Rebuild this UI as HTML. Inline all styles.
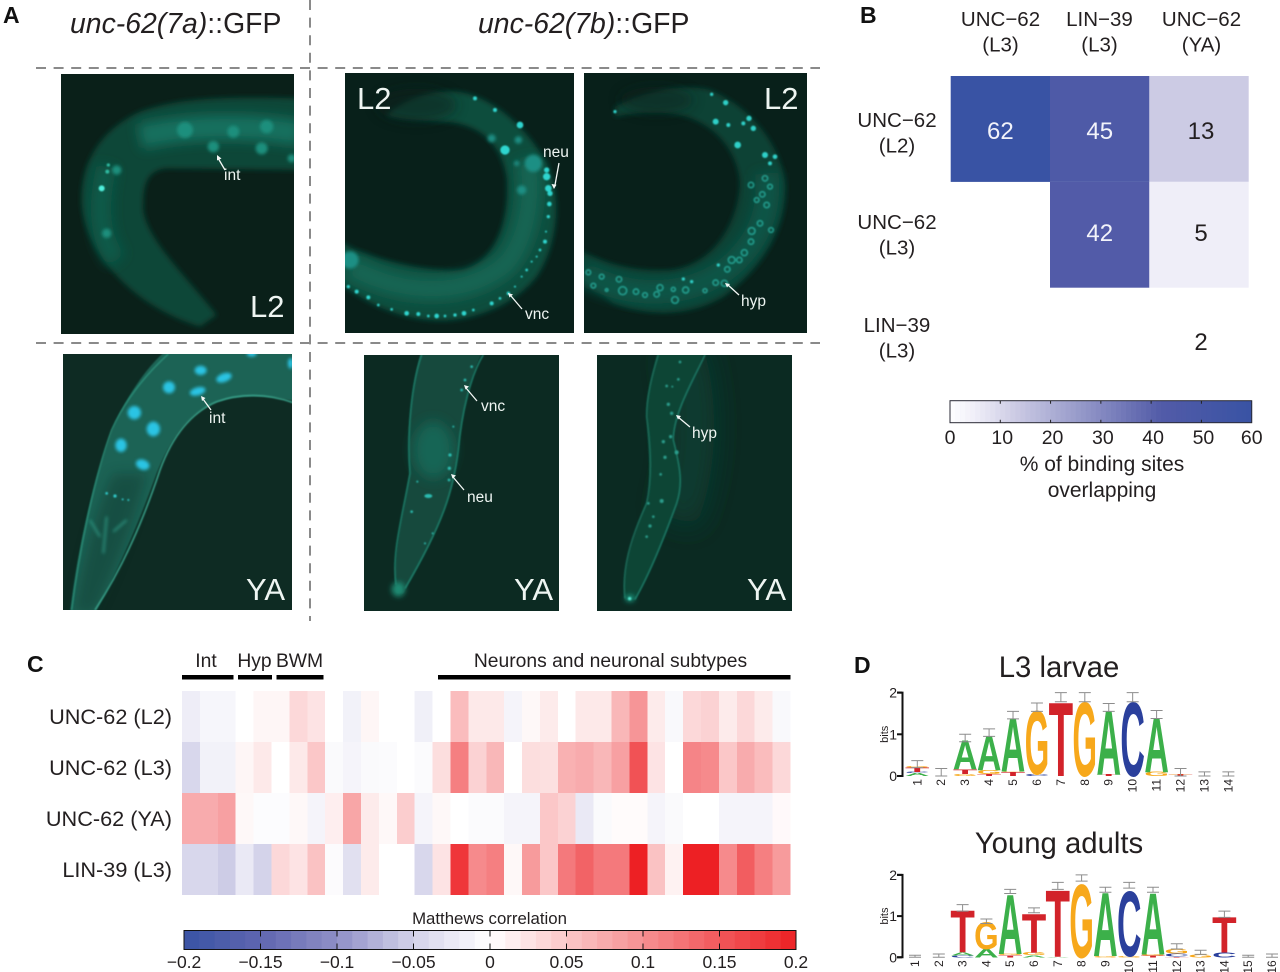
<!DOCTYPE html>
<html lang="en">
<head>
<meta charset="utf-8">
<title>unc-62 expression and binding figure</title>
<style>
html,body{margin:0;padding:0;background:#fff;}
svg{display:block;}
text{font-family:"Liberation Sans",Arial,sans-serif;fill:#231f20;}
.pl{font-weight:bold;font-size:23px;fill:#111;}
.w{fill:#eef5f2;}
.sm{font-size:15.5px;}
.st{font-size:31px;}
.hd{font-size:20.5px;text-anchor:middle;}
.val{font-size:24px;text-anchor:middle;}
.rl{font-size:21.7px;text-anchor:end;}
.dash{stroke:#8a8a8a;stroke-width:2;stroke-dasharray:10 7.6;fill:none;}
.arr{stroke:#f4f8f6;stroke-width:1.3;fill:none;}
.tip{fill:#f4f8f6;}
</style>
</head>
<body>
<svg id="fig" xmlns="http://www.w3.org/2000/svg" width="1280" height="972" viewBox="0 0 1280 972">
<defs>
<filter id="b1" filterUnits="userSpaceOnUse" x="-100" y="-100" width="1700" height="1100"><feGaussianBlur stdDeviation="2.2"/></filter>
<filter id="b5" filterUnits="userSpaceOnUse" x="-100" y="-100" width="1700" height="1100"><feGaussianBlur stdDeviation="4.5"/></filter>
<filter id="b2" filterUnits="userSpaceOnUse" x="-100" y="-100" width="1700" height="1100"><feGaussianBlur stdDeviation="8"/></filter>
<filter id="b3" filterUnits="userSpaceOnUse" x="-100" y="-100" width="1700" height="1100"><feGaussianBlur stdDeviation="18"/></filter>
<filter id="b4" filterUnits="userSpaceOnUse" x="-100" y="-100" width="1700" height="1100"><feGaussianBlur stdDeviation="42"/></filter>
</defs>
<rect x="0" y="0" width="1280" height="972" fill="#fff"/>

<g>
<text class="pl" x="3" y="23">A</text>
<text x="70" y="33" font-size="28.4"><tspan font-style="italic">unc-62(7a)</tspan>::GFP</text>
<text x="478" y="33" font-size="28.4"><tspan font-style="italic">unc-62(7b)</tspan>::GFP</text>

<svg x="61" y="74" width="233" height="260" viewBox="61 74 233 260">
<rect x="61" y="74" width="233" height="260" fill="#0a2019"/>
<g transform="scale(.33333)">
<path d="M900 295 C700 290 540 290 420 335 C300 390 240 490 245 610 C255 760 400 920 600 980 L650 945 C560 830 420 700 430 610 C430 540 450 510 500 505 L900 510 Z" fill="#0c4638" filter="url(#b2)"/>
<path d="M420 410 C560 375 760 375 900 400" fill="none" stroke="#136f5f" stroke-width="75" filter="url(#b3)"/>
<path d="M320 500 C290 620 300 720 350 780" fill="none" stroke="#105a4a" stroke-width="60" filter="url(#b3)"/>
<g fill="#1f8f7d" filter="url(#b5)">
<circle cx="555" cy="390" r="24"/><circle cx="800" cy="380" r="20"/><circle cx="640" cy="440" r="17"/><circle cx="785" cy="445" r="18"/><circle cx="875" cy="475" r="12"/><circle cx="350" cy="510" r="14"/><circle cx="320" cy="700" r="14"/><circle cx="700" cy="395" r="18"/>
</g>
<circle cx="322" cy="515" r="6" fill="#2fb9a0" filter="url(#b1)"/>
<circle cx="325" cy="495" r="5" fill="#2fb9a0" filter="url(#b1)"/>
<circle cx="305" cy="565" r="9" fill="#50f0dd" filter="url(#b1)"/>
</g>
</svg>

<svg x="345" y="73" width="229" height="260" viewBox="345 73 229 260">
<rect x="345" y="73" width="229" height="260" fill="#08201a"/>
<g transform="translate(330 60) scale(.33333)">
<path d="M30 545 C120 600 300 640 400 630 C500 600 540 480 530 350 C510 240 440 190 340 185 C280 180 220 180 170 165 C220 120 300 90 380 95 C500 110 600 220 650 310 C700 420 680 560 620 650 C540 750 400 790 300 780 C180 770 100 720 30 670 Z" fill="#0d4d3e" filter="url(#b2)"/>
<path d="M60 620 C200 700 400 720 530 610 C600 520 610 380 590 300" fill="none" stroke="#126553" stroke-width="70" filter="url(#b3)"/>
<ellipse cx="260" cy="135" rx="120" ry="50" fill="#08201a" opacity=".55" filter="url(#b3)"/>
<g fill="#2fd5cf" filter="url(#b1)">
<circle cx="55" cy="680" r="5"/><circle cx="80" cy="695" r="6"/><circle cx="115" cy="712" r="6"/><circle cx="145" cy="735" r="4"/><circle cx="185" cy="748" r="4"/><circle cx="230" cy="760" r="7"/><circle cx="265" cy="762" r="6"/><circle cx="295" cy="768" r="4"/><circle cx="320" cy="768" r="7"/><circle cx="345" cy="768" r="4"/><circle cx="375" cy="765" r="5"/><circle cx="402" cy="760" r="7"/><circle cx="430" cy="750" r="4"/><circle cx="485" cy="730" r="6"/><circle cx="510" cy="715" r="4"/><circle cx="535" cy="700" r="5"/><circle cx="555" cy="680" r="3"/><circle cx="575" cy="650" r="3"/><circle cx="590" cy="630" r="4"/><circle cx="605" cy="605" r="3"/><circle cx="620" cy="590" r="3"/><circle cx="630" cy="570" r="4"/><circle cx="645" cy="545" r="6"/><circle cx="648" cy="515" r="3"/><circle cx="655" cy="470" r="5"/><circle cx="658" cy="432" r="7"/><circle cx="660" cy="400" r="8"/><circle cx="655" cy="385" r="10"/><circle cx="650" cy="350" r="11"/><circle cx="650" cy="330" r="8"/><circle cx="525" cy="270" r="14"/><circle cx="570" cy="195" r="10"/><circle cx="495" cy="150" r="6"/><circle cx="435" cy="115" r="6"/>
</g>
<g fill="#1f8f84" filter="url(#b5)">
<circle cx="485" cy="235" r="12"/><circle cx="575" cy="390" r="14"/><circle cx="565" cy="240" r="11"/><circle cx="610" cy="310" r="26"/><circle cx="60" cy="600" r="26"/><circle cx="560" cy="310" r="8"/>
</g>
</g>
</svg>

<svg x="584" y="73" width="223" height="260" viewBox="584 73 223 260">
<rect x="584" y="73" width="223" height="260" fill="#08201a"/>
<g transform="translate(330 60) scale(.33333)">
<path d="M855 140 C960 90 1060 70 1140 90 C1260 140 1350 250 1365 370 C1370 500 1300 620 1180 710 C1080 770 960 770 850 730 L750 650 L750 570 C800 600 900 640 1030 630 C1150 610 1225 490 1230 370 C1225 280 1160 190 1050 165 C980 150 900 160 855 170 Z" fill="#0b4335" filter="url(#b2)"/>
<path d="M760 640 C900 720 1100 720 1220 600 C1300 520 1320 430 1310 340" fill="none" stroke="#0e5546" stroke-width="70" filter="url(#b3)"/>
<ellipse cx="980" cy="120" rx="110" ry="40" fill="#08201a" opacity=".5" filter="url(#b3)"/>
<g fill="none" stroke="#2bb5a6" stroke-width="5" opacity=".75" filter="url(#b1)">
<circle cx="775" cy="637" r="7"/><circle cx="815" cy="650" r="7"/><circle cx="790" cy="677" r="7"/><circle cx="867" cy="658" r="8"/><circle cx="830" cy="690" r="4"/><circle cx="878" cy="692" r="12"/><circle cx="918" cy="695" r="8"/><circle cx="945" cy="705" r="7"/><circle cx="980" cy="703" r="8"/><circle cx="990" cy="683" r="9"/><circle cx="1035" cy="720" r="10"/><circle cx="1030" cy="688" r="6"/><circle cx="1067" cy="690" r="9"/><circle cx="1125" cy="692" r="6"/><circle cx="1157" cy="668" r="8"/><circle cx="1183" cy="670" r="9"/><circle cx="1192" cy="628" r="8"/><circle cx="1205" cy="600" r="10"/><circle cx="1228" cy="600" r="8"/><circle cx="1243" cy="578" r="9"/><circle cx="1263" cy="545" r="8"/><circle cx="1265" cy="513" r="10"/><circle cx="1290" cy="490" r="8"/><circle cx="1323" cy="510" r="7"/><circle cx="1310" cy="435" r="8"/><circle cx="1297" cy="403" r="8"/><circle cx="1280" cy="420" r="7"/><circle cx="1320" cy="380" r="7"/><circle cx="1305" cy="355" r="8"/><circle cx="1263" cy="375" r="8"/>
</g>
<g fill="#2fd0c8" filter="url(#b1)">
<circle cx="1085" cy="665" r="5"/><circle cx="1060" cy="657" r="5"/><circle cx="1165" cy="615" r="5"/><circle cx="1305" cy="285" r="9"/><circle cx="1223" cy="255" r="10"/><circle cx="1270" cy="205" r="8"/><circle cx="1257" cy="175" r="8"/><circle cx="1195" cy="195" r="6"/><circle cx="1157" cy="185" r="9"/><circle cx="1187" cy="128" r="8"/><circle cx="1145" cy="103" r="5"/><circle cx="855" cy="155" r="5"/><circle cx="1240" cy="190" r="6"/><circle cx="1335" cy="290" r="7"/><circle cx="1320" cy="310" r="6"/>
</g>
</g>
</svg>

<svg x="63" y="354" width="229" height="256" viewBox="63 354 229 256">
<rect x="63" y="354" width="229" height="256" fill="#0e2b23"/>
<g transform="translate(0 340) scale(.33333)">
<path d="M500 30 L900 30 L900 188 C820 165 720 160 640 190 C560 225 510 300 470 400 C420 540 360 680 285 820 L210 820 C230 650 270 450 340 260 C380 170 440 80 500 30 Z" fill="#1b6354" filter="url(#b1)"/>
<path d="M220 820 C250 650 290 500 340 400 L440 400 C400 560 340 700 285 820 Z" fill="#0e2b23" opacity=".35" filter="url(#b3)"/>
<path d="M505 42 C430 110 370 190 335 270 C280 420 235 650 215 810" fill="none" stroke="#2c8f79" stroke-width="4" filter="url(#b1)"/>
<path d="M880 188 C800 160 720 160 650 185 C580 215 520 280 480 390 C430 540 370 680 285 810" fill="none" stroke="#3aa68e" stroke-width="4.500" filter="url(#b1)"/>
<g fill="#2cc4e4" filter="url(#b5)">
<ellipse cx="602" cy="91" rx="18" ry="14"/><ellipse cx="672" cy="113" rx="24" ry="13" transform="rotate(-20 672 113)"/><ellipse cx="507" cy="142" rx="18" ry="18"/><ellipse cx="593" cy="154" rx="24" ry="12" transform="rotate(-15 593 154)"/><ellipse cx="403" cy="218" rx="20" ry="20"/><ellipse cx="460" cy="267" rx="20" ry="22"/><ellipse cx="363" cy="316" rx="17" ry="20"/><ellipse cx="428" cy="374" rx="21" ry="15" transform="rotate(20 428 374)"/><ellipse cx="755" cy="42" rx="15" ry="8"/><ellipse cx="872" cy="70" rx="8" ry="16"/>
</g>
<g fill="#2fc8c8" filter="url(#b1)"><circle cx="320" cy="460" r="4"/><circle cx="345" cy="468" r="5"/><circle cx="368" cy="478" r="3"/><circle cx="385" cy="480" r="3"/></g>
<path d="M320 530 L310 640 M380 540 L340 575 M270 540 L300 590" stroke="#2f9d88" stroke-width="5" fill="none" filter="url(#b5)"/>
</g>
</svg>

<svg x="364" y="355" width="195" height="256" viewBox="364 355 195 256">
<rect x="364" y="355" width="195" height="256" fill="#0c2a22"/>
<g transform="translate(330 340) scale(.33333)">
<path d="M275 30 L460 30 C420 110 395 220 385 330 C370 450 340 550 220 760 L200 760 C185 680 210 560 240 400 C230 280 245 130 275 30 Z" fill="#124a3d" filter="url(#b1)"/>
<ellipse cx="310" cy="330" rx="60" ry="85" fill="#186555" filter="url(#b3)"/>
<path d="M275 44 C245 130 230 280 240 400 C215 540 185 640 198 735" fill="none" stroke="#1f806c" stroke-width="4.500" filter="url(#b1)"/>
<path d="M460 44 C420 110 395 220 385 330 C370 450 340 550 225 745" fill="none" stroke="#1f806c" stroke-width="4.500" filter="url(#b1)"/>
<ellipse cx="205" cy="748" rx="20" ry="22" fill="#1f8a72" filter="url(#b2)"/>
<g fill="#2bbcb0" filter="url(#b1)">
<circle cx="405" cy="120" r="4"/><circle cx="395" cy="150" r="4"/><circle cx="425" cy="80" r="4"/><circle cx="360" cy="345" r="5"/><circle cx="358" cy="385" r="5"/><circle cx="357" cy="420" r="4"/><ellipse cx="295" cy="468" rx="12" ry="6"/><circle cx="245" cy="515" r="4"/><circle cx="262" cy="425" r="3"/><circle cx="308" cy="580" r="3"/><circle cx="285" cy="610" r="3"/><circle cx="370" cy="260" r="3"/>
</g>
</g>
</svg>

<svg x="597" y="355" width="195" height="256" viewBox="597 355 195 256">
<rect x="597" y="355" width="195" height="256" fill="#0b2a22"/>
<g transform="translate(330 340) scale(.33333)">
<path d="M1060 30 C1110 200 1100 400 1040 540" fill="none" stroke="#0f3d31" stroke-width="120" filter="url(#b4)"/>
<path d="M985 30 L1125 30 C1090 120 1030 220 1030 300 C1050 380 1060 430 1040 490 C1000 600 960 700 915 780 L885 780 C870 700 910 590 955 470 C965 360 945 260 950 190 C960 120 975 70 985 30 Z" fill="#114436" filter="url(#b1)"/>
<path d="M985 44 C965 110 950 170 950 230 C965 340 965 420 950 490 C900 600 875 690 885 775" fill="none" stroke="#1a6e5c" stroke-width="4.500" filter="url(#b1)"/>
<path d="M1125 44 C1090 120 1030 220 1030 300 C1050 380 1060 430 1040 490 C1000 600 960 700 915 778" fill="none" stroke="#1d7c68" stroke-width="4.500" filter="url(#b1)"/>
<g fill="#2a9d8c" filter="url(#b1)">
<circle cx="1050" cy="66" r="4"/><circle cx="1045" cy="118" r="4"/><circle cx="1010" cy="138" r="4"/><circle cx="1027" cy="140" r="3"/><circle cx="1015" cy="193" r="5"/><circle cx="1025" cy="220" r="5"/><circle cx="1000" cy="305" r="5"/><circle cx="1022" cy="290" r="5"/><circle cx="1005" cy="352" r="5"/><circle cx="1040" cy="337" r="6"/><circle cx="992" cy="403" r="4"/><circle cx="995" cy="483" r="6"/><circle cx="955" cy="490" r="4"/><circle cx="970" cy="530" r="4"/><circle cx="960" cy="558" r="5"/><circle cx="950" cy="590" r="4"/>
</g>
<ellipse cx="900" cy="775" rx="14" ry="10" fill="#1f9c85" filter="url(#b2)"/>
<circle cx="899" cy="776" r="5" fill="#54e3cc" filter="url(#b1)"/>
</g>
</svg>

<g>
<text class="w st" x="250" y="317">L2</text>
<text class="w st" x="357" y="109">L2</text>
<text class="w st" x="764" y="109">L2</text>
<text class="w st" x="246" y="600">YA</text>
<text class="w st" x="514" y="600">YA</text>
<text class="w st" x="747" y="600">YA</text>
</g>

<g>
<text class="w sm" x="224" y="180">int</text>
<path class="arr" d="M225 170L218 158"/><path class="tip" d="M217 155l4.500 3.500-4.500 2z"/>
<text class="w sm" x="543" y="157">neu</text>
<path class="arr" d="M559 163L555 185"/><path class="tip" d="M554 189l-2.500-5 5 .8z"/>
<text class="w sm" x="525" y="319">vnc</text>
<path class="arr" d="M522 309L511 296"/><path class="tip" d="M508 293l5 1.500-3.500 3z"/>
<text class="w sm" x="741" y="306">hyp</text>
<path class="arr" d="M739 295L728 285"/><path class="tip" d="M725 283l5 1-3 3.500z"/>
<text class="w sm" x="209" y="423">int</text>
<path class="arr" d="M211 410L203 399"/><path class="tip" d="M201 396l4.500 2-3.500 3z"/>
<text class="w sm" x="481" y="411">vnc</text>
<path class="arr" d="M477 401L466 388"/><path class="tip" d="M464 385l5 1.500-3.500 3z"/>
<text class="w sm" x="467" y="502">neu</text>
<path class="arr" d="M464 490L453 477"/><path class="tip" d="M451 474l5 1.500-3.500 3z"/>
<text class="w sm" x="692" y="438">hyp</text>
<path class="arr" d="M690 427L678 417"/><path class="tip" d="M676 415l5 1-3 3.500z"/>
</g>

<line class="dash" x1="36" y1="68" x2="820" y2="68"/>
<line class="dash" x1="36" y1="343" x2="820" y2="343"/>
<line class="dash" x1="310" y1="0" x2="310" y2="621"/>
</g>

<g>
<text class="pl" x="860" y="23">B</text>
<g id="overlapCells"></g>
<g id="overlapHead"></g>
<g id="overlapBar"></g>
<text x="1102" y="471" font-size="21" text-anchor="middle">% of binding sites</text>
<text x="1102" y="497" font-size="21" text-anchor="middle">overlapping</text>
</g>

<g>
<text class="pl" x="27" y="672">C</text>
<text x="206" y="667" font-size="19.3" text-anchor="middle">Int</text>
<text x="254.500" y="667" font-size="19.3" text-anchor="middle">Hyp</text>
<text x="299.500" y="667" font-size="19.3" text-anchor="middle">BWM</text>
<text x="610.500" y="667" font-size="19.3" text-anchor="middle">Neurons and neuronal subtypes</text>
<rect x="182" y="675" width="51.500" height="4.500" fill="#000"/>
<rect x="238" y="675" width="34" height="4.500" fill="#000"/>
<rect x="276.500" y="675" width="47" height="4.500" fill="#000"/>
<rect x="438" y="675" width="352.500" height="4.500" fill="#000"/>
<g id="corrCells" shape-rendering="crispEdges"></g>
<g id="corrRows"></g>
<text x="489.500" y="924" font-size="16.800" text-anchor="middle">Matthews correlation</text>
<g id="corrBar"></g>
</g>

<g>
<text class="pl" x="854" y="673">D</text>
<text x="1059" y="677" font-size="29.3" text-anchor="middle">L3 larvae</text>
<text x="1059" y="853" font-size="29.3" text-anchor="middle">Young adults</text>
<g id="logoL3"></g>
<g id="logoYA"></g>
</g>
</svg>

<script>
/* ---------- Panel B data ---------- */
var overlapCols = ["UNC\u221262|(L3)", "LIN\u221239|(L3)", "UNC\u221262|(YA)"];
var overlapRows = ["UNC\u221262|(L2)", "UNC\u221262|(L3)", "LIN\u221239|(L3)"];
var overlapValues = [[62, 45, 13], [null, 42, 5], [null, null, 2]];
var overlapTicks = [0, 10, 20, 30, 40, 50, 60];

/* ---------- Panel C data ---------- */
var corrRowNames = ["UNC-62 (L2)", "UNC-62 (L3)", "UNC-62 (YA)", "LIN-39 (L3)"];
var corrL2 = [-0.02, -0.01, -0.01, 0, 0.008, 0.008, 0.035, 0.025, 0, -0.015, 0.008, 0, 0, -0.017, 0, 0.06, 0.02, 0.02, -0.012, 0.006, 0.018, 0, 0.02, 0.02, 0.065, 0.095, 0.018, -0.007, 0.035, 0.04, 0.018, 0.035, 0.018, -0.007];
var corrL3 = [-0.045, -0.015, -0.015, 0.008, 0.02, 0, 0.02, 0.05, -0.006, -0.012, -0.006, -0.005, 0, -0.005, 0.03, 0.115, 0.04, 0.065, 0, 0.03, 0.028, 0.07, 0.075, 0.065, 0.085, 0.155, 0.025, 0, 0.11, 0.105, 0.05, 0.075, 0.06, 0.035];
var corrYA = [0.075, 0.075, 0.085, 0.006, -0.003, -0.003, 0.006, -0.012, 0.015, 0.08, 0.018, 0.006, 0.045, -0.012, 0.006, 0, -0.005, -0.005, -0.012, -0.012, 0.05, 0.04, -0.025, -0.006, 0.004, 0.004, -0.012, -0.006, 0, 0, -0.012, -0.012, -0.012, 0.005];
var corrLIN = [-0.045, -0.045, -0.055, -0.025, -0.05, 0.035, 0.025, 0.055, -0.004, -0.035, 0.018, 0, 0, -0.045, 0.025, 0.18, 0.105, 0.115, 0.006, 0.09, 0.05, 0.12, 0.14, 0.12, 0.12, 0.2, 0.055, 0.012, 0.2, 0.2, 0.105, 0.145, 0.115, 0.09];
var corrTicks = [-0.2, -0.15, -0.1, -0.05, 0, 0.05, 0.1, 0.15, 0.2];
var corrTickLabels = ["\u22120.2", "\u22120.15", "\u22120.1", "\u22120.05", "0", "0.05", "0.1", "0.15", "0.2"];

/* ---------- Panel D data: stacks listed bottom to top as [letter, bits] ---------- */
var logoL3Stacks = [
  [["A", 0.07], ["C", 0.03], ["T", 0.1], ["G", 0.03]],
  [],
  [["G", 0.05], ["T", 0.11], ["A", 0.69]],
  [["T", 0.05], ["G", 0.09], ["A", 0.81]],
  [["T", 0.09], ["G", 0.02], ["A", 1.27]],
  [["C", 0.05], ["G", 1.5]],
  [["T", 1.75]],
  [["G", 1.75]],
  [["T", 0.04], ["A", 1.51]],
  [["C", 1.75]],
  [["G", 0.1], ["A", 1.28]],
  [["T", 0.04], ["G", 0.02]],
  [],
  []
];
var logoL3Errors = [[0.2, 0.37], [0, 0.18], [0.82, 1], [0.95, 1.13], [1.37, 1.55], [1.55, 1.75], [1.78, 2], [1.78, 2], [1.55, 1.74], [1.78, 2], [1.38, 1.57], [0, 0.18], [0, 0.1], [0, 0.1]];
var logoYAStacks = [
  [],
  [],
  [["C", 0.04], ["A", 0.08], ["T", 1]],
  [["A", 0.2], ["G", 0.65]],
  [["T", 0.05], ["G", 0.03], ["A", 1.42]],
  [["A", 0.05], ["G", 0.07], ["T", 0.93]],
  [["A", 0.02], ["T", 1.6]],
  [["G", 1.75]],
  [["G", 0.03], ["A", 1.52]],
  [["G", 0.03], ["C", 1.55]],
  [["T", 0.04], ["G", 0.03], ["A", 1.47]],
  [["T", 0.02], ["C", 0.07], ["G", 0.11]],
  [["G", 0.07]],
  [["C", 0.12], ["T", 0.85]],
  [],
  []
];
var logoYAErrors = [[0, 0.05], [0, 0.08], [1.12, 1.28], [0.82, 0.93], [1.55, 1.65], [1.08, 1.2], [1.65, 1.82], [1.85, 2], [1.58, 1.7], [1.68, 1.82], [1.58, 1.7], [0.2, 0.33], [0.07, 0.17], [0.97, 1.12], [0, 0.05], [0, 0.08]];
var logoBitTicks = [0, 1, 2];

var NS = "http://www.w3.org/2000/svg";

function parseHex(h) {
  return [parseInt(h.substr(1, 2), 16), parseInt(h.substr(3, 2), 16), parseInt(h.substr(5, 2), 16)];
}
function lerpStops(stops, t) {
  for (var i = 0; i < stops.length - 1; i++) {
    if (t <= stops[i + 1][0]) {
      var f = (t - stops[i][0]) / (stops[i + 1][0] - stops[i][0]);
      var a = parseHex(stops[i][1]);
      var b = parseHex(stops[i + 1][1]);
      return "rgb(" + Math.round(a[0] + (b[0] - a[0]) * f) + "," + Math.round(a[1] + (b[1] - a[1]) * f) + "," + Math.round(a[2] + (b[2] - a[2]) * f) + ")";
    }
  }
  return stops[stops.length - 1][1];
}
var blueRamp = [[0, "#ffffff"], [5, "#efeef8"], [13, "#cccbe4"], [42, "#525ba8"], [60, "#3953a4"], [100, "#3953a4"]];
function overlapColor(v) { return lerpStops(blueRamp, v); }
function corrColor(v) {
  if (v >= 0) return lerpStops([[0, "#ffffff"], [0.2, "#ed2024"], [9, "#ed2024"]], v);
  return lerpStops([[0, "#ffffff"], [0.05, "#d4d3ea"], [0.1, "#8f8fc6"], [0.15, "#5f66b0"], [0.2, "#3953a4"], [9, "#3953a4"]], -v);
}

/* ---------- Panel B drawing ---------- */
var xB = function (i) { return 950.7 + i * 99.3; };
var yB = function (j) { return 76 + j * 105.8; };
var xBar = function (v) { return 950 + v / 60 * 301.7; };
var gCells = document.getElementById("overlapCells");
var gHead = document.getElementById("overlapHead");
var gBar = document.getElementById("overlapBar");

overlapValues.forEach(function (row, j) {
  row.forEach(function (v, i) {
    if (v === null) return;
    if (j < 2) {
      var r = document.createElementNS(NS, "rect");
      r.setAttribute("x", xB(i));
      r.setAttribute("y", yB(j));
      r.setAttribute("width", 99.4);
      r.setAttribute("height", 105.9);
      r.setAttribute("fill", overlapColor(v));
      
      
      gCells.appendChild(r);
    }
    var t = document.createElementNS(NS, "text");
    t.setAttribute("x", xB(i) + 49.7 + (i === 2 ? 2 : 0));
    t.setAttribute("y", [139, 241, 350][j]);
    t.setAttribute("class", "val");
    if (v > 30) t.style.fill = "#f2f3fa";
    t.textContent = v;
    
    
    gCells.appendChild(t);
  });
});

overlapCols.forEach(function (c, i) {
  var parts = c.split("|");
  parts.forEach(function (p, k) {
    var t = document.createElementNS(NS, "text");
    t.setAttribute("x", [1000.5, 1099.5, 1201.5][i]);
    t.setAttribute("y", 26 + k * 25.7);
    t.setAttribute("class", "hd");
    t.textContent = p;
    
    
    gHead.appendChild(t);
  });
});
overlapRows.forEach(function (c, j) {
  var parts = c.split("|");
  parts.forEach(function (p, k) {
    var t = document.createElementNS(NS, "text");
    t.setAttribute("x", 897);
    t.setAttribute("y", [127, 229, 332][j] + k * 25.7);
    t.setAttribute("class", "hd");
    t.textContent = p;
    
    
    gHead.appendChild(t);
  });
});

(function () {
  var n = 60;
  for (var i = 0; i < n; i++) {
    var v0 = i / n * 60;
    var s = document.createElementNS(NS, "rect");
    s.setAttribute("x", xBar(v0));
    s.setAttribute("y", 400.7);
    s.setAttribute("width", 301.7 / n + 0.4);
    s.setAttribute("height", 22);
    s.setAttribute("fill", overlapColor(v0 + 0.5));
    
    
    gBar.appendChild(s);
  }
  var o = document.createElementNS(NS, "rect");
  o.setAttribute("x", 950);
  o.setAttribute("y", 400.7);
  o.setAttribute("width", 301.7);
  o.setAttribute("height", 22);
  o.setAttribute("fill", "none");
  o.setAttribute("stroke", "#2a2a35");
  
  
  gBar.appendChild(o);
  overlapTicks.forEach(function (v, i) {
    var t = document.createElementNS(NS, "text");
    t.setAttribute("x", xBar(v) + (i > 0 && i < overlapTicks.length - 1 ? 2 : 0));
    t.setAttribute("y", 444);
    t.setAttribute("font-size", 19.5);
    t.setAttribute("text-anchor", "middle");
    t.textContent = v;
    
    
    gBar.appendChild(t);
    if (v > 0 && v < 60) {
      var m = document.createElementNS(NS, "path");
      m.setAttribute("d", "M" + xBar(v) + " 400.7v3M" + xBar(v) + " 422.7v-3");
      m.setAttribute("stroke", "#222");
      
      
      gBar.appendChild(m);
    }
  });
})();

/* ---------- Panel C drawing ---------- */
var corrMatrix = [corrL2, corrL3, corrYA, corrLIN];
var xC = function (i) { return 182 + i * 608.5 / 34; };
var yC = function (j) { return 691 + j * 51; };
var xCb = function (v) { return 184 + (v + 0.2) / 0.4 * 612; };
var gC = document.getElementById("corrCells");
var gR = document.getElementById("corrRows");
var gCb = document.getElementById("corrBar");

corrMatrix.forEach(function (row, j) {
  row.forEach(function (v, i) {
    var r = document.createElementNS(NS, "rect");
    r.setAttribute("x", xC(i));
    r.setAttribute("y", yC(j));
    r.setAttribute("width", xC(i + 1) - xC(i));
    r.setAttribute("height", 51);
    r.setAttribute("fill", corrColor(v));
    
    
    gC.appendChild(r);
  });
});
corrRowNames.forEach(function (name, j) {
  var t = document.createElementNS(NS, "text");
  t.setAttribute("x", 172);
  t.setAttribute("y", yC(j) + 33);
  t.setAttribute("class", "rl");
  t.textContent = name;
  
  
  gR.appendChild(t);
});
(function () {
  var n = 40;
  for (var i = 0; i < n; i++) {
    var v0 = -0.2 + i * 0.4 / n;
    var s = document.createElementNS(NS, "rect");
    s.setAttribute("x", xCb(v0));
    s.setAttribute("y", 930.5);
    s.setAttribute("width", 612 / n + 0.4);
    s.setAttribute("height", 19);
    s.setAttribute("fill", corrColor(v0 + 0.2 / n));
    
    
    gCb.appendChild(s);
  }
  var o = document.createElementNS(NS, "rect");
  o.setAttribute("x", 184);
  o.setAttribute("y", 930.5);
  o.setAttribute("width", 612);
  o.setAttribute("height", 19);
  o.setAttribute("fill", "none");
  o.setAttribute("stroke", "#111");
  
  
  gCb.appendChild(o);
  corrTicks.forEach(function (v, i) {
    var t = document.createElementNS(NS, "text");
    t.setAttribute("x", xCb(v));
    t.setAttribute("y", 968);
    t.setAttribute("font-size", 17.5);
    t.setAttribute("text-anchor", "middle");
    t.textContent = corrTickLabels[i];
    
    
    gCb.appendChild(t);
    if (i > 0 && i < corrTicks.length - 1) {
      var m = document.createElementNS(NS, "path");
      m.setAttribute("d", "M" + xCb(v) + " 930.5v6M" + xCb(v) + " 949.5v-6");
      m.setAttribute("stroke", "#111");
      
      
      gCb.appendChild(m);
    }
  });
})();

/* ---------- Panel D drawing ---------- */
var letterColor = { A: "#3cb04a", C: "#2b409c", G: "#f7a81b", T: "#d2232a" };
var letterWidth = { A: 0.722, C: 0.722, G: 0.778, T: 0.611 };
var CAP = 0.688;

function drawLogo(hostId, stacks, errors, y0, pxPerBit, x1, dx) {
  var g = document.getElementById(hostId);
  var xPos = function (i) { return x1 + i * dx; };
  var yBit = function (b) { return y0 - b * pxPerBit; };

  var ax = document.createElementNS(NS, "path");
  ax.setAttribute("d", "M897 " + yBit(2) + "H902.500V" + y0 + "H897");
  ax.setAttribute("stroke", "#111");
  ax.setAttribute("stroke-width", 2);
  ax.setAttribute("fill", "none");
  
  
  g.appendChild(ax);

  logoBitTicks.forEach(function (b) {
    var m = document.createElementNS(NS, "path");
    m.setAttribute("d", "M897 " + yBit(b) + "H902");
    m.setAttribute("stroke", "#111");
    m.setAttribute("stroke-width", 2);
    
    
    g.appendChild(m);
    var t = document.createElementNS(NS, "text");
    t.setAttribute("x", 897);
    t.setAttribute("y", yBit(b) + 5);
    t.setAttribute("font-size", 14);
    t.setAttribute("text-anchor", "end");
    t.textContent = b;
    
    
    g.appendChild(t);
  });

  var bl = document.createElementNS(NS, "text");
  bl.setAttribute("transform", "translate(888 " + yBit(1) + ") rotate(-90)");
  bl.setAttribute("font-size", 11);
  bl.setAttribute("text-anchor", "middle");
  bl.textContent = "bits";
  
  
  g.appendChild(bl);

  stacks.forEach(function (stack, i) {
    var base = 0;
    stack.forEach(function (entry) {
      var L = entry[0];
      var h = entry[1] * pxPerBit;
      var w = 24.5;
      var sx = w / (letterWidth[L] * 100);
      var sy = h / (CAP * 100);
      var t = document.createElementNS(NS, "text");
      t.setAttribute("transform", "translate(" + (xPos(i) - w / 2) + " " + yBit(base) + ") scale(" + sx + " " + sy + ")");
      t.setAttribute("font-size", 100);
      t.setAttribute("font-weight", "bold");
      t.style.fill = letterColor[L];
      t.textContent = L;
      
      
      g.appendChild(t);
      base += entry[1];
    });
  });

  errors.forEach(function (e, i) {
    var c = document.createElementNS(NS, "path");
    var x = xPos(i);
    c.setAttribute("d", "M" + (x - 6) + " " + yBit(e[0]) + "h12M" + x + " " + yBit(e[0]) + "V" + yBit(e[1]) + "M" + (x - 6) + " " + yBit(e[1]) + "h12");
    c.setAttribute("stroke", "#8d8d8d");
    c.setAttribute("stroke-width", 1);
    c.setAttribute("fill", "none");
    
    
    g.appendChild(c);

    var n = document.createElementNS(NS, "text");
    n.setAttribute("transform", "translate(" + (x + 4) + " " + (y0 + 3) + ") rotate(-90)");
    n.setAttribute("font-size", 12);
    n.setAttribute("text-anchor", "end");
    n.textContent = i + 1;
    
    
    g.appendChild(n);
  });
}
drawLogo("logoL3", logoL3Stacks, logoL3Errors, 776, 41.7, 917.3, 23.93);
drawLogo("logoYA", logoYAStacks, logoYAErrors, 957.3, 41.2, 915, 23.8);
</script>
</body>
</html>
